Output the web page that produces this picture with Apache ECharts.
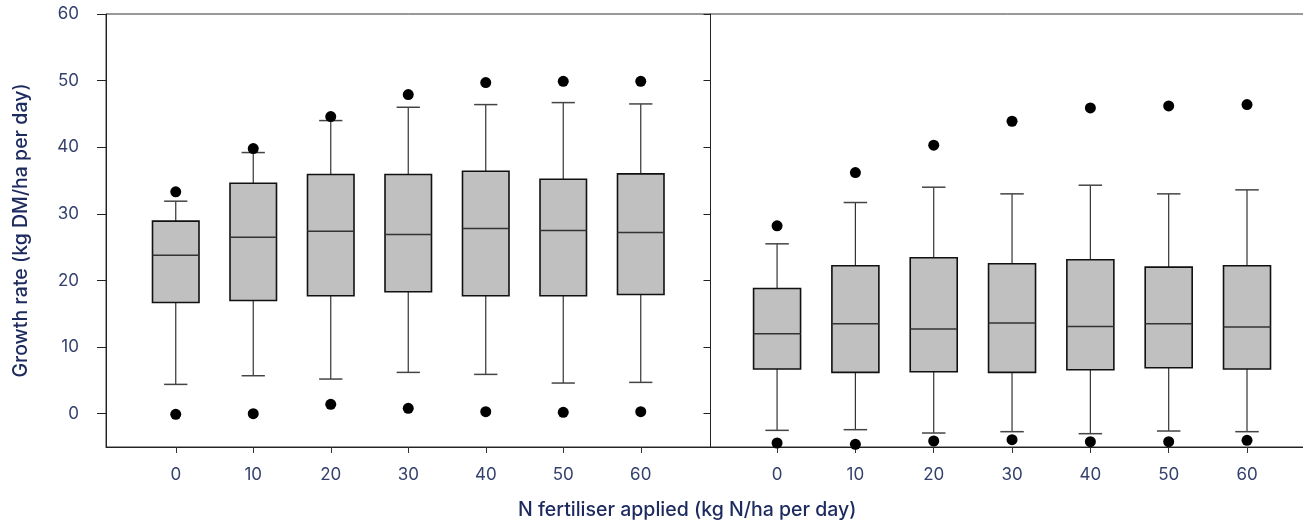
<!DOCTYPE html>
<html>
<head>
<meta charset="utf-8">
<title>Growth rate by N fertiliser</title>
<script src="https://cdn.jsdelivr.net/npm/echarts@6/dist/echarts.min.js"></script>
<style>
  html, body { margin: 0; padding: 0; background: #fff; }
  #chart { width: 1303px; height: 520px; }
</style>
</head>
<body>
<div id="chart"></div>
<script>
// N rates (kg N/ha per day)
var categories = ['0', '10', '20', '30', '40', '50', '60'];
var yTicks = [0, 10, 20, 30, 40, 50, 60];

// left panel
var leftLow    = [4.4, 5.7, 5.2, 6.2, 5.9, 4.6, 4.7];
var leftQ1     = [16.7, 17.0, 17.7, 18.3, 17.7, 17.7, 17.9];
var leftMedian = [23.8, 26.5, 27.4, 26.9, 27.8, 27.5, 27.2];
var leftQ3     = [28.9, 34.6, 35.9, 35.9, 36.4, 35.2, 36.0];
var leftHigh   = [31.9, 39.2, 44.0, 46.0, 46.4, 46.7, 46.5];
var leftOutHigh = [33.3, 39.8, 44.6, 47.9, 49.7, 49.9, 49.9];
var leftOutLow  = [-0.1, 0.0, 1.4, 0.8, 0.3, 0.2, 0.3];

// right panel
var rightLow    = [-2.5, -2.4, -2.9, -2.7, -3.0, -2.6, -2.7];
var rightQ1     = [6.7, 6.2, 6.3, 6.2, 6.6, 6.9, 6.7];
var rightMedian = [12.0, 13.5, 12.7, 13.6, 13.1, 13.5, 13.0];
var rightQ3     = [18.8, 22.2, 23.4, 22.5, 23.1, 22.0, 22.2];
var rightHigh   = [25.5, 31.7, 34.0, 33.0, 34.3, 33.0, 33.6];
var rightOutHigh = [28.2, 36.2, 40.3, 43.9, 45.9, 46.2, 46.4];
var rightOutLow  = [-4.4, -4.6, -4.1, -3.9, -4.2, -4.2, -4.0];

var tickColor = '#34416d';
var nameColor = '#1c2a5e';
var fontFamily = 'Inter, Lato, "Noto Sans", sans-serif';

function boxData(low, q1, med, q3, high) {
    return low.map(function (v, i) {
        return [i, v, q1[i], med[i], q3[i], high[i]];
    });
}

function outlierData(hi, lo) {
    var out = [];
    hi.forEach(function (v, i) { out.push([i, v]); });
    lo.forEach(function (v, i) { out.push([i, v]); });
    return out;
}

function renderBox(params, api) {
    var x = api.value(0);
    var low = api.coord([x, api.value(1)]);
    var q1 = api.coord([x, api.value(2)]);
    var med = api.coord([x, api.value(3)]);
    var q3 = api.coord([x, api.value(4)]);
    var high = api.coord([x, api.value(5)]);
    var boxW = api.size([0.6, 0])[0];
    var capW = boxW / 2;
    var cx = low[0];
    var whisker = { stroke: '#333', lineWidth: 1.2 };
    return {
        type: 'group',
        children: [
            { type: 'line', shape: { x1: cx, y1: high[1], x2: cx, y2: q3[1] }, style: whisker },
            { type: 'line', shape: { x1: cx, y1: q1[1], x2: cx, y2: low[1] }, style: whisker },
            { type: 'line', shape: { x1: cx - capW / 2, y1: high[1], x2: cx + capW / 2, y2: high[1] }, style: { stroke: '#444', lineWidth: 1.5 } },
            { type: 'line', shape: { x1: cx - capW / 2, y1: low[1], x2: cx + capW / 2, y2: low[1] }, style: { stroke: '#444', lineWidth: 1.5 } },
            { type: 'rect', shape: { x: cx - boxW / 2, y: q3[1], width: boxW, height: q1[1] - q3[1] },
              style: { fill: '#c0c0c0', stroke: '#111', lineWidth: 1.6 } },
            { type: 'line', shape: { x1: cx - boxW / 2, y1: med[1], x2: cx + boxW / 2, y2: med[1] }, style: { stroke: '#333', lineWidth: 1.5 } }
        ]
    };
}

function xAxisFor(gridIndex, min) {
    return {
        type: 'value',
        gridIndex: gridIndex,
        min: min,
        max: 6.9,
        axisLine: { show: true, onZero: false, lineStyle: { color: '#222', width: 1 } },
        axisTick: { show: true, length: 6, customValues: [0, 1, 2, 3, 4, 5, 6], lineStyle: { color: '#333' } },
        axisLabel: {
            customValues: [0, 1, 2, 3, 4, 5, 6],
            margin: 19,
            color: tickColor,
            fontSize: 17,
            fontFamily: fontFamily,
            formatter: function (v) { return categories[Math.round(v)]; }
        },
        splitLine: { show: false }
    };
}

function rightYAxis(inside, length, showLine) {
    return {
        type: 'value',
        gridIndex: 1,
        min: -5,
        max: 60,
        axisLine: { show: showLine, onZero: false, lineStyle: { color: '#222' } },
        axisTick: { show: true, inside: inside, length: length, customValues: yTicks, lineStyle: { color: '#222' } },
        axisLabel: { show: false },
        splitLine: { show: false }
    };
}

var chart = echarts.init(document.getElementById('chart'));

var option = {
    animation: false,
    title: {
        text: 'N fertiliser applied (kg N/ha per day)',
        left: 513,
        top: 495,
        textStyle: { color: nameColor, fontSize: 19.5, fontWeight: 500, fontFamily: fontFamily }
    },
    grid: [
        { left: 106, top: 14, width: 604.5, height: 433, outerBoundsMode: 'none',
          show: true, borderColor: '#333', borderWidth: 1 },
        { left: 710.5, top: 14, width: 607, height: 433, outerBoundsMode: 'none',
          show: true, borderColor: '#333', borderWidth: 1 }
    ],
    xAxis: [xAxisFor(0, -0.9), xAxisFor(1, -0.85)],
    yAxis: [
        {
            type: 'value',
            gridIndex: 0,
            min: -5,
            max: 60,
            name: 'Growth rate (kg DM/ha per day)',
            nameLocation: 'middle',
            nameGap: 75,
            nameTextStyle: { color: nameColor, fontSize: 19.5, fontWeight: 500, fontFamily: fontFamily },
            axisLine: { show: true, onZero: false, lineStyle: { color: '#222' } },
            axisTick: { show: true, length: 9, customValues: yTicks, lineStyle: { color: '#222' } },
            axisLabel: { customValues: yTicks, margin: 27, color: tickColor, fontSize: 17, fontFamily: fontFamily },
            splitLine: { show: false }
        },
        rightYAxis(false, 7, true),
        rightYAxis(true, 6, false)
    ],
    series: [
        {
            type: 'custom',
            xAxisIndex: 0,
            yAxisIndex: 0,
            renderItem: renderBox,
            encode: { x: 0, y: [1, 2, 3, 4, 5] },
            data: boxData(leftLow, leftQ1, leftMedian, leftQ3, leftHigh),
            z: 2
        },
        {
            type: 'scatter',
            xAxisIndex: 0,
            yAxisIndex: 0,
            symbolSize: 11,
            itemStyle: { color: '#000', opacity: 1 },
            data: outlierData(leftOutHigh, leftOutLow),
            z: 3
        },
        {
            type: 'custom',
            xAxisIndex: 1,
            yAxisIndex: 1,
            renderItem: renderBox,
            encode: { x: 0, y: [1, 2, 3, 4, 5] },
            data: boxData(rightLow, rightQ1, rightMedian, rightQ3, rightHigh),
            z: 2
        },
        {
            type: 'scatter',
            xAxisIndex: 1,
            yAxisIndex: 1,
            symbolSize: 11,
            itemStyle: { color: '#000', opacity: 1 },
            data: outlierData(rightOutHigh, rightOutLow),
            z: 3
        }
    ]
};

chart.setOption(option);
</script>
</body>
</html>
